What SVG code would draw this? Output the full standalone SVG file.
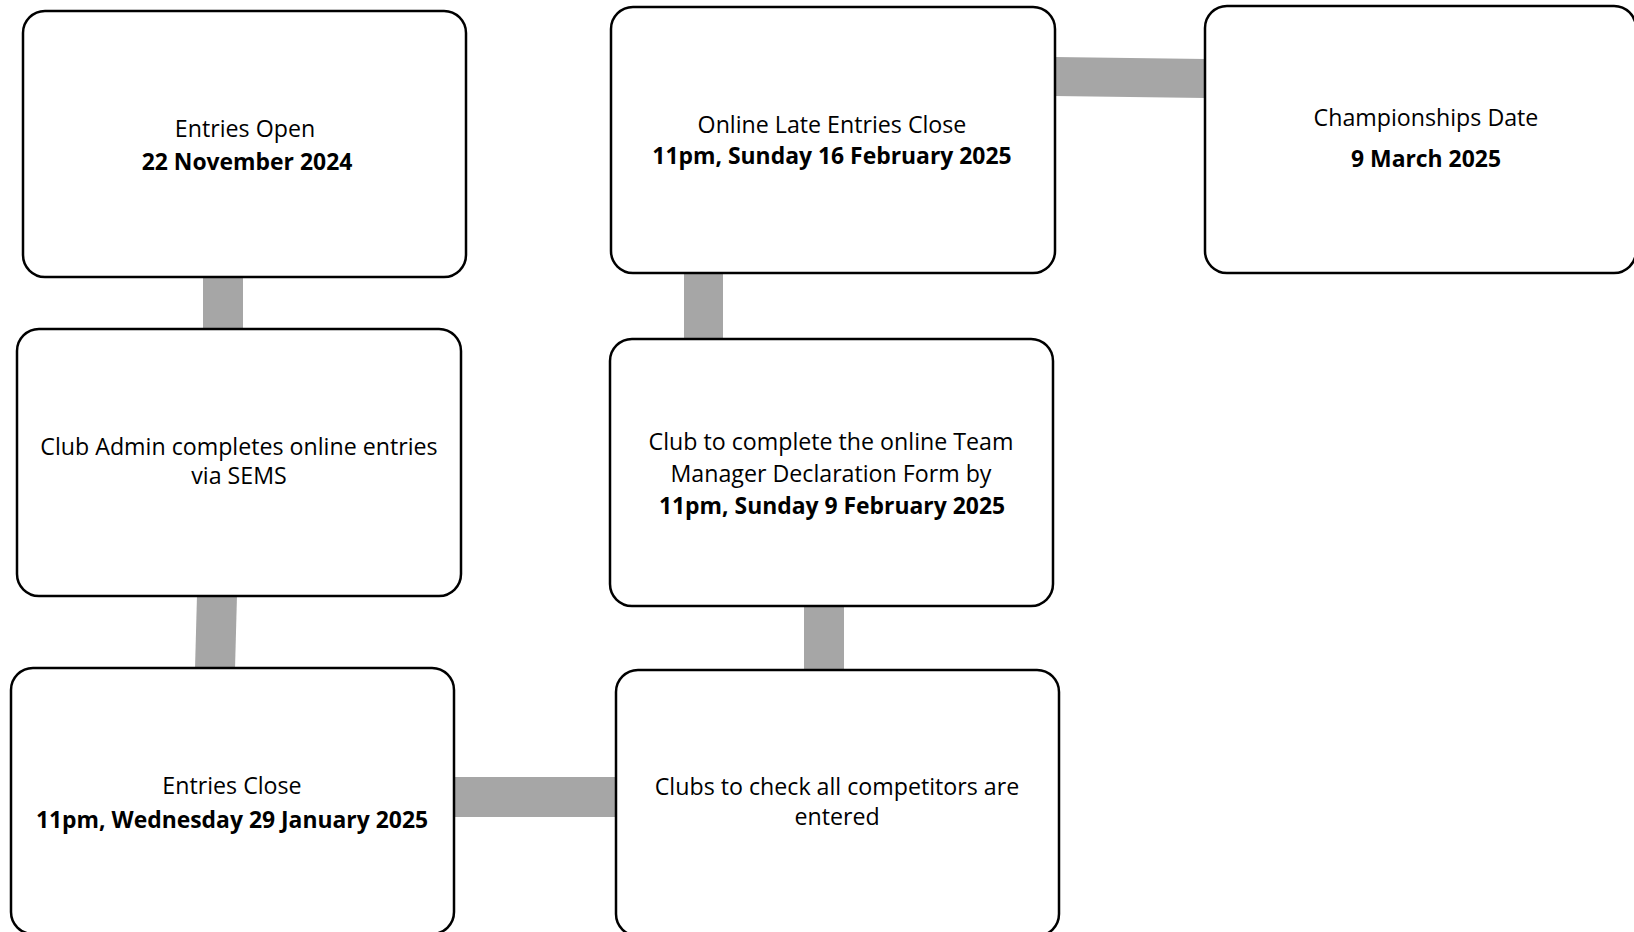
<svg xmlns="http://www.w3.org/2000/svg" width="1634" height="932" viewBox="0 0 1634 932">
<style>
.box{fill:#fff;stroke:#000;stroke-width:2.5}
.conn{fill:#a6a6a6}
text{font-family:"Open Sans","Noto Sans",sans-serif;font-size:23.2px;fill:#000;text-anchor:middle}
.b{font-weight:bold;font-size:22.9px}
</style>
<rect width="1634" height="932" fill="#fff"/>
<g id="connectors">
<rect class="conn" x="203" y="276" width="40" height="54"/>
<polygon class="conn" points="197,595 237,595 235,669 195,669"/>
<polygon class="conn" points="453,777 617,777 617,817 453,817"/>
<rect class="conn" x="804" y="605" width="40" height="66"/>
<rect class="conn" x="684" y="272" width="39" height="68"/>
<polygon class="conn" points="1054,57 1206,59 1206,98 1054,96"/>
</g>
<g id="n1">
<rect class="box" x="23" y="11" width="443" height="266" rx="22"/>
<text x="245" y="137">Entries Open</text>
<text class="b" x="247" y="170">22 November 2024</text>
</g>
<g id="n2">
<rect class="box" x="17" y="329" width="444" height="267" rx="22"/>
<text x="239" y="455">Club Admin completes online entries</text>
<text x="239" y="484">via SEMS</text>
</g>
<g id="n3">
<rect class="box" x="11" y="668" width="443" height="266" rx="22"/>
<text x="232" y="794">Entries Close</text>
<text class="b" x="232" y="828">11pm, Wednesday 29 January 2025</text>
</g>
<g id="n4">
<rect class="box" x="616" y="670" width="443" height="266" rx="22"/>
<text x="837" y="795">Clubs to check all competitors are</text>
<text x="837" y="825">entered</text>
</g>
<g id="n5">
<rect class="box" x="610" y="339" width="443" height="267" rx="22"/>
<text x="831" y="450">Club to complete the online Team</text>
<text x="831" y="482">Manager Declaration Form by</text>
<text class="b" x="832" y="514">11pm, Sunday 9 February 2025</text>
</g>
<g id="n6">
<rect class="box" x="611" y="7" width="444" height="266" rx="22"/>
<text x="832" y="133">Online Late Entries Close</text>
<text class="b" x="832" y="164">11pm, Sunday 16 February 2025</text>
</g>
<g id="n7">
<rect class="box" x="1205" y="6" width="431" height="267" rx="22"/>
<text x="1426" y="126">Championships Date</text>
<text class="b" x="1426" y="167">9 March 2025</text>
</g>
</svg>
